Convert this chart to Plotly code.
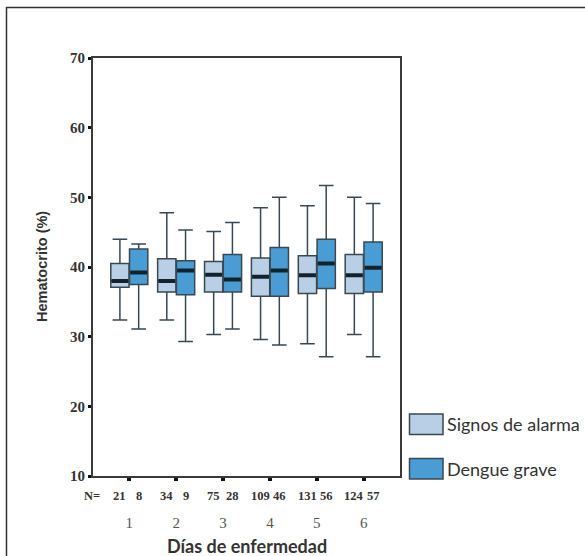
import plotly.graph_objects as go

days = [1, 2, 3, 4, 5, 6]
tick_labels = ["1", "2", "3", "4", "5", "6"]
series_names = ["Signos de alarma", "Dengue grave"]

# Signos de alarma
sa_low = [32.4, 32.4, 30.3, 29.6, 29.0, 30.3]
sa_q1 = [37.1, 36.4, 36.4, 35.8, 36.2, 36.2]
sa_med = [38.0, 38.0, 38.9, 38.6, 38.8, 38.8]
sa_q3 = [40.5, 41.2, 40.8, 41.3, 41.6, 41.8]
sa_high = [44.0, 47.8, 45.1, 48.5, 48.8, 50.0]
sa_n = [21, 34, 75, 109, 131, 124]

# Dengue grave
dg_low = [31.1, 29.3, 31.1, 28.8, 27.1, 27.1]
dg_q1 = [37.5, 36.0, 36.4, 35.8, 36.9, 36.4]
dg_med = [39.2, 39.5, 38.2, 39.5, 40.5, 39.9]
dg_q3 = [42.6, 40.9, 41.8, 42.8, 44.0, 43.6]
dg_high = [43.3, 45.3, 46.4, 50.0, 51.7, 49.1]
dg_n = [8, 9, 28, 46, 56, 57]

light = "#b8cfe6"
dark = "#4a9dd4"
edge = "#3a4852"
med_col = "#14222b"

W, H = 585, 556
L, R, T, B = 93, 400, 58, 476


def px(xp):
    return (xp - L) / (R - L)


def py(yp):
    return 1 - (yp - T) / (B - T)


off = 0.2
bw = 0.39

fig = go.Figure()
groups = [
    (-off, sa_low, sa_q1, sa_med, sa_q3, sa_high, light),
    (off, dg_low, dg_q1, dg_med, dg_q3, dg_high, dark),
]
for o, lo, q1, me, q3, hi, col in groups:
    xs = [d + o for d in days]
    fig.add_trace(go.Box(
        x=xs, lowerfence=lo, q1=q1, median=me, q3=q3, upperfence=hi,
        width=bw, fillcolor=col, line=dict(color=edge, width=1.5),
        whiskerwidth=0.8, showlegend=False, hoverinfo="skip",
    ))
    # thick median bars
    fig.add_trace(go.Box(
        x=xs, lowerfence=me, q1=me, median=me, q3=me, upperfence=me,
        width=bw - 0.03, fillcolor="rgba(0,0,0,0)", line=dict(color=med_col, width=4),
        whiskerwidth=0, showlegend=False, hoverinfo="skip",
    ))

ann = []
# N row
yN = py(496)
nfont = dict(family="Liberation Serif", size=12.5, color="#333", weight="bold")
ann.append(dict(x=px(91.5), y=yN, xref="paper", yref="paper", text="N=",
                showarrow=False, font=nfont, xanchor="center", yanchor="middle"))
for d, a, b in zip(days, sa_n, dg_n):
    for xx, n in ((d - off, a), (d + off, b)):
        ann.append(dict(x=xx, y=yN, xref="x", yref="paper", text=str(n),
                        showarrow=False, font=nfont,
                        xanchor="center", yanchor="middle"))
# titles
ann.append(dict(x=px(246.5), y=py(546), xref="paper", yref="paper", text="Días de enfermedad",
                showarrow=False, font=dict(family="Lato", size=18, color="#333", weight="bold"),
                xanchor="center", yanchor="middle"))
ann.append(dict(x=px(42), y=py(267), xref="paper", yref="paper", text="Hematocrito (%)",
                showarrow=False, textangle=-90,
                font=dict(family="Liberation Sans", size=14.5, color="#333", weight="bold"),
                xanchor="center", yanchor="middle"))
# legend
shapes = []
for (y0, y1), name, col in (((414, 434.5), series_names[0], light), ((458.5, 479), series_names[1], dark)):
    shapes.append(dict(type="rect", xref="paper", yref="paper",
                       x0=px(409.5), x1=px(443), y0=py(y1), y1=py(y0),
                       fillcolor=col, line=dict(color=edge, width=1.5)))
    ann.append(dict(x=px(445), y=py((y0 + y1) / 2), xref="paper", yref="paper", text=name,
                    showarrow=False, font=dict(family="Lato", size=18, color="#333"),
                    xanchor="left", yanchor="middle"))
# outer frame (top and left edges visible)
shapes.append(dict(type="line", xref="paper", yref="paper",
                   x0=px(6), x1=px(590), y0=py(7.5), y1=py(7.5),
                   line=dict(color="#333", width=1.5)))
shapes.append(dict(type="line", xref="paper", yref="paper",
                   x0=px(6.5), x1=px(6.5), y0=py(7), y1=py(600),
                   line=dict(color="#333", width=1.5)))

fig.update_layout(
    width=W, height=H,
    margin=dict(l=L, r=W - R, t=T, b=H - B),
    paper_bgcolor="white", plot_bgcolor="white",
    showlegend=False,
    annotations=ann, shapes=shapes,
    xaxis=dict(range=[0.226, 6.774], tickmode="array", tickvals=days, ticktext=tick_labels,
               showgrid=False, zeroline=False, showline=True, mirror=True,
               linecolor="#3a3a3a", linewidth=2.2, ticks="outside", ticklen=3, tickwidth=4,
               tickcolor="#111", ticklabelstandoff=29,
               tickfont=dict(family="Liberation Serif", size=15, color="#555")),
    yaxis=dict(range=[10, 70], tickmode="array", tickvals=[10, 20, 30, 40, 50, 60, 70],
               showgrid=False, zeroline=False, showline=True, mirror=True,
               linecolor="#3a3a3a", linewidth=2.2, ticks="outside", ticklen=3, tickwidth=3,
               tickcolor="#111",
               tickfont=dict(family="Liberation Serif", size=15, color="#333", weight="bold")),
)

fig.write_html(
    "out.html",
    config={"displayModeBar": False},
    post_script="document.body.style.margin='0px';document.body.style.overflow='hidden';",
)
